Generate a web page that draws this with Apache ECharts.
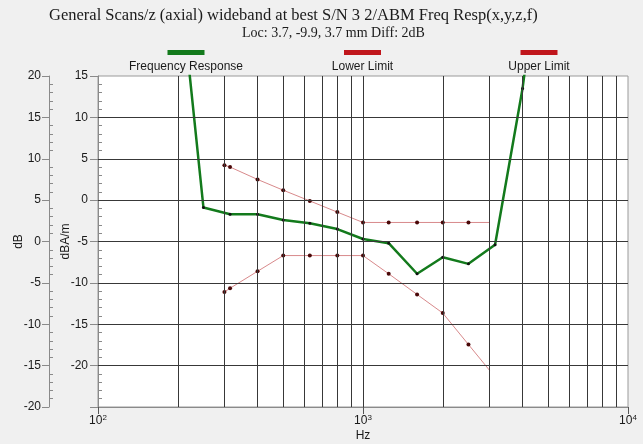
<!DOCTYPE html>
<html><head><meta charset="utf-8">
<script src="https://cdn.jsdelivr.net/npm/echarts@6/dist/echarts.min.js"></script>
<style>html,body{margin:0;padding:0;background:#f0f0f0}#c{width:643px;height:444px}</style>
</head><body><div id="c"></div>
<script>
const respFreq = [200, 250, 315, 400, 500, 630, 800, 1000, 1250, 1600, 2000, 2500, 3150, 4000, 5000];
const respDbAm = [29, -0.9, -1.7, -1.7, -2.4, -2.8, -3.5, -4.7, -5.2, -8.9, -6.9, -7.7, -5.4, 13.5, 37];
const limitFreq = [300, 315, 400, 500, 630, 800, 1000, 1250, 1600, 2000, 2500, 3000];
const lowerDbAm = [-11.1, -10.65, -8.6, -6.7, -6.7, -6.7, -6.7, -8.9, -11.4, -13.65, -17.45, -20.55];
const upperDbAm = [4.2, 4.0, 2.5, 1.2, -0.1, -1.45, -2.7, -2.7, -2.7, -2.7, -2.7, -2.7];
const vGridFreq = [200, 300, 400, 500, 600, 700, 800, 900, 1000, 2000, 3000, 4000, 5000, 6000, 7000, 8000, 9000];
const hGridDbAm = [-20, -15, -10, -5, 0, 5, 10];
const seriesNames = ['Frequency Response', 'Lower Limit', 'Upper Limit'];
const titleText = 'General Scans/z (axial) wideband at best S/N 3 2/ABM Freq Resp(x,y,z,f)';
const subText = 'Loc: 3.7, -9.9, 3.7 mm Diff: 2dB';

const zip = (xs, ys) => xs.map((x, i) => [x, ys[i]]);
const limitData = ys => zip(limitFreq, ys).map((p, i, a) => i === a.length - 1 ? {value: p, symbol: 'none'} : p);

const GRID = '#383838', AXIS = '#8a8a8a', TXT = '#1a1a1a';
const FONT = 'Liberation Sans';
const legendColors = ['#137a1c', '#c0161c', '#c0161c'];
const legendCenters = [186, 362.5, 539];

const chart = echarts.init(document.getElementById('c'), null, {renderer: 'canvas'});

function legendFor(i) {
  return {
    data: [{name: seriesNames[i], icon: 'rect', itemStyle: {color: legendColors[i], borderWidth: 0}}],
    left: legendCenters[i] - 18.5, top: 50, itemWidth: 37, itemHeight: 5, selectedMode: false,
    padding: 0, formatter: () => '',
    textStyle: {fontSize: 1}
  };
}

chart.setOption({
  backgroundColor: '#f0f0f0',
  animation: false,
  title: [
    {text: titleText, left: 49, top: 7, padding: 0,
     textStyle: {fontFamily: 'Liberation Serif', fontSize: 16.5, fontWeight: 'normal', color: TXT}},
    {text: subText, left: 242, top: 26, padding: 0,
     textStyle: {fontFamily: 'Liberation Serif', fontSize: 14, fontWeight: 'normal', color: TXT}}
  ],
  legend: [legendFor(0), legendFor(1), legendFor(2)],
  graphic: seriesNames.map((n, i) => ({
    type: 'text', x: legendCenters[i], y: 67, silent: true,
    style: {text: n, fontFamily: FONT, fontSize: 12, fill: TXT, align: 'center', verticalAlign: 'middle'}
  })),
  grid: {left: 98, right: 15, top: 76, bottom: 37, outerBoundsMode: 'none', containLabel: false,
         show: true, backgroundColor: '#ffffff', borderColor: '#9a9a9a', borderWidth: 1},
  xAxis: {
    type: 'log', logBase: 10, min: 100, max: 10000,
    name: 'Hz', nameLocation: 'middle', nameGap: 23, nameMoveOverlap: false,
    nameTextStyle: {fontFamily: FONT, fontSize: 12, color: TXT},
    axisLine: {onZero: false, lineStyle: {color: AXIS}},
    axisTick: {show: true, length: 7, lineStyle: {color: '#555'}},
    splitLine: {show: false},
    axisLabel: {
      margin: 7,
      formatter: v => '{b|10}{s|' + Math.round(Math.log10(v)) + '}',
      rich: {b: {fontFamily: FONT, fontSize: 12, color: TXT, lineHeight: 14}, s: {fontFamily: FONT, fontSize: 8, color: TXT, verticalAlign: 'top', lineHeight: 14}}
    }
  },
  yAxis: [
    { // dB labels, major ticks outward
      type: 'value', position: 'left', offset: 49, min: -20, max: 20, interval: 5,
      name: 'dB', nameLocation: 'middle', nameGap: 24, nameMoveOverlap: false,
      nameTextStyle: {fontFamily: FONT, fontSize: 12, color: TXT},
      axisLine: {show: true, onZero: false, lineStyle: {color: AXIS}},
      axisTick: {show: true, length: 7, lineStyle: {color: AXIS}},
      axisLabel: {margin: 8, fontFamily: FONT, fontSize: 12, color: TXT},
      splitLine: {show: false}
    },
    { // dB minor ticks inward
      type: 'value', position: 'left', offset: 49, min: -20, max: 20, interval: 5,
      axisLine: {show: false, onZero: false}, axisLabel: {show: false},
      axisTick: {show: false, inside: true},
      minorTick: {show: true, splitNumber: 5, length: 4, lineStyle: {color: AXIS}},
      splitLine: {show: false}
    },
    { // dBA/m
      type: 'value', position: 'left', offset: 0, min: -25, max: 15, interval: 5,
      name: 'dBA/m', nameLocation: 'middle', nameGap: 26, nameMoveOverlap: false,
      nameTextStyle: {fontFamily: FONT, fontSize: 12, color: TXT},
      axisLine: {show: true, onZero: false, lineStyle: {color: AXIS}},
      axisTick: {show: true, length: 8, lineStyle: {color: AXIS}},
      axisLabel: {margin: 10, fontFamily: FONT, fontSize: 12, color: TXT, formatter: v => v === -25 ? '' : String(v)},
      splitLine: {show: false}
    },
    { // dBA/m minor ticks inward
      type: 'value', position: 'left', offset: 0, min: -25, max: 15, interval: 5,
      axisLine: {show: false, onZero: false}, axisLabel: {show: false},
      axisTick: {show: false, inside: true},
      minorTick: {show: true, splitNumber: 5, length: 4, lineStyle: {color: AXIS}},
      splitLine: {show: false}
    }
  ],
  series: [
    {
      name: 'gridlines', type: 'line', xAxisIndex: 0, yAxisIndex: 2, data: [], silent: true, z: 1,
      markLine: {
        silent: true, symbol: ['none', 'none'], label: {show: false}, animation: false,
        lineStyle: {color: GRID, width: 1, type: 'solid'},
        emphasis: {disabled: true},
        data: vGridFreq.map(f => ({xAxis: f})).concat(hGridDbAm.map(d => ({yAxis: d})))
      }
    },
    {
      name: seriesNames[1], type: 'line', xAxisIndex: 0, yAxisIndex: 2, z: 3,
      data: limitData(lowerDbAm), symbol: 'circle', symbolSize: 4, showAllSymbol: true,
      lineStyle: {color: '#d8898b', width: 1}, itemStyle: {color: '#4a0808'}
    },
    {
      name: seriesNames[2], type: 'line', xAxisIndex: 0, yAxisIndex: 2, z: 3,
      data: limitData(upperDbAm), symbol: 'circle', symbolSize: 4, showAllSymbol: true,
      lineStyle: {color: '#d8898b', width: 1}, itemStyle: {color: '#4a0808'}
    },
    {
      name: seriesNames[0], type: 'line', xAxisIndex: 0, yAxisIndex: 2, z: 4,
      data: zip(respFreq, respDbAm), symbol: 'circle', symbolSize: 3, showAllSymbol: true,
      lineStyle: {color: '#137a1c', width: 2.5}, itemStyle: {color: '#111'}
    }
  ]
});
</script></body></html>
